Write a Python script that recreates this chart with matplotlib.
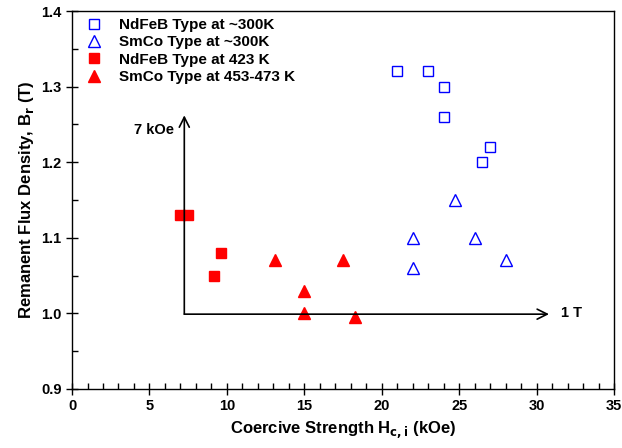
import matplotlib.pyplot as plt
from matplotlib.ticker import MultipleLocator

plt.rcParams['font.family'] = ['Liberation Sans', 'DejaVu Sans']

# NdFeB at ~300K (open squares)
ndfeb_rt_h = [21, 23, 24, 24, 27, 26.5]
ndfeb_rt_b = [1.32, 1.32, 1.30, 1.26, 1.22, 1.20]
# SmCo at ~300K (open triangles)
smco_rt_h = [24.7, 22, 22, 26, 28]
smco_rt_b = [1.15, 1.10, 1.06, 1.10, 1.07]
# NdFeB at 423 K (filled squares)
ndfeb_hot_h = [7.0, 7.5, 9.6, 9.2]
ndfeb_hot_b = [1.13, 1.13, 1.08, 1.05]
# SmCo at 453-473 K (filled triangles)
smco_hot_h = [13.1, 15.0, 15.0, 17.5, 18.3]
smco_hot_b = [1.07, 1.03, 1.00, 1.07, 0.995]

fig = plt.figure(figsize=(6.22, 4.48), dpi=100)
ax = fig.add_axes([0.1158, 0.1317, 0.8714, 0.8437])

ax.plot(ndfeb_rt_h, ndfeb_rt_b, 's', ms=7.5, mfc='none', mec='#0000ff', mew=1.0,
        ls='none', label='NdFeB Type at ~300K')
ax.plot(smco_rt_h, smco_rt_b, '^', ms=8.5, mfc='none', mec='#0000ff', mew=1.0,
        ls='none', label='SmCo Type at ~300K')
ax.plot(ndfeb_hot_h, ndfeb_hot_b, 's', ms=7.5, mfc='#ff0000', mec='#ff0000',
        ls='none', label='NdFeB Type at 423 K')
ax.plot(smco_hot_h, smco_hot_b, '^', ms=8.5, mfc='#ff0000', mec='#ff0000',
        ls='none', label='SmCo Type at 453-473 K')

# scale arrows
ax.annotate('', xy=(7.25, 1.262), xytext=(7.25, 0.999),
            arrowprops=dict(arrowstyle='->', lw=1.2, color='black',
                            shrinkA=0, shrinkB=0, mutation_scale=18))
ax.annotate('', xy=(30.8, 0.999), xytext=(7.25, 0.999),
            arrowprops=dict(arrowstyle='->', lw=1.2, color='black',
                            shrinkA=0, shrinkB=0, mutation_scale=18))
ax.text(6.6, 1.243, '7 kOe', ha='right', va='center', fontsize=10.5, fontweight='bold')
ax.text(31.6, 1.0, '1 T', ha='left', va='center', fontsize=10.5, fontweight='bold')

ax.set_xlim(0, 35)
ax.set_ylim(0.9, 1.4)
ax.xaxis.set_major_locator(MultipleLocator(5))
ax.xaxis.set_minor_locator(MultipleLocator(1))
ax.yaxis.set_major_locator(MultipleLocator(0.1))
ax.yaxis.set_minor_locator(MultipleLocator(0.05))
ax.yaxis.set_major_formatter(plt.FormatStrFormatter('%.1f'))
ax.tick_params(which='major', direction='inout', length=8, width=1)
ax.tick_params(which='minor', direction='in', length=4, width=1)
ax.tick_params(labelsize=10.5)
for lab in ax.get_xticklabels() + ax.get_yticklabels():
    lab.set_fontweight('bold')

for s in ax.spines.values():
    s.set_linewidth(1)

ax.set_xlabel(r'Coercive Strength H$_{\mathbf{c,i}}$ (kOe)', fontsize=12, fontweight='bold')
ax.set_ylabel(r'Remanent Flux Density, B$_{\mathbf{r}}$ (T)', fontsize=12, fontweight='bold')

leg = ax.legend(loc='upper left', frameon=False, handletextpad=0.6,
                borderaxespad=0.05, labelspacing=0.22, prop={'weight': 'bold', 'size': 11})

fig.savefig('out.png', dpi=100)
